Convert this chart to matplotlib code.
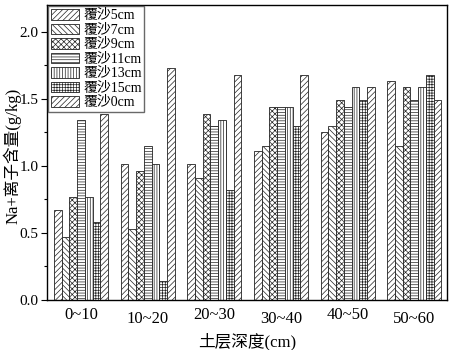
import matplotlib
matplotlib.use("Agg")
import matplotlib.pyplot as plt
import matplotlib.transforms as mtransforms
import numpy as np
from matplotlib.ticker import MultipleLocator

plt.rcParams['font.family'] = ['Liberation Serif', 'Noto Sans CJK SC']
plt.rcParams['hatch.linewidth'] = 0.5
plt.rcParams['hatch.color'] = '#333333'

depths = ["0~10", "10~20", "20~30", "30~40", "40~50", "50~60"]
series = ["覆沙5cm", "覆沙7cm", "覆沙9cm", "覆沙11cm", "覆沙13cm", "覆沙15cm", "覆沙0cm"]
sand_5 = [0.67, 1.01, 1.01, 1.11, 1.25, 1.63]
sand_7 = [0.47, 0.53, 0.91, 1.15, 1.30, 1.15]
sand_9 = [0.77, 0.96, 1.39, 1.44, 1.49, 1.59]
sand_11 = [1.34, 1.15, 1.30, 1.44, 1.44, 1.49]
sand_13 = [0.77, 1.01, 1.34, 1.44, 1.59, 1.59]
sand_15 = [0.58, 0.14, 0.82, 1.30, 1.49, 1.68]
sand_0 = [1.39, 1.73, 1.68, 1.68, 1.59, 1.49]
values = [sand_5, sand_7, sand_9, sand_11, sand_13, sand_15, sand_0]
hatches = ["//////", "\\\\\\\\\\\\", "xxxxxx", "------", "||||||", "++++++", "//////"]

fig = plt.figure(figsize=(4.52, 3.5), dpi=100)
ax = fig.add_axes([0.104, 0.143, 0.885, 0.843])

x = np.arange(len(depths))
w = 0.116
for i, (name, vals, h) in enumerate(zip(series, values, hatches)):
    ax.bar(x + (i - 3) * w, vals, w, label=name, facecolor="white",
           edgecolor="#222222", linewidth=0.6, hatch=h)

ax.set_xlim(-0.51, 5.49)
ax.set_ylim(0, 2.2)
ax.set_xticks(x)
ax.set_xticklabels(depths, fontsize=12)
ax.tick_params(axis="x", length=0, pad=5)
# labels are staggered slightly in the original
shift = mtransforms.ScaledTranslation(0, -3 / 72, fig.dpi_scale_trans)
for lab in ax.get_xticklabels()[1::2]:
    lab.set_transform(lab.get_transform() + shift)
ax.yaxis.set_major_locator(MultipleLocator(0.5))
ax.yaxis.set_minor_locator(MultipleLocator(0.25))
ax.set_yticklabels([f"{v:.1f}" for v in ax.get_yticks()], fontsize=11)
ax.tick_params(axis="y", direction="out", length=4, width=0.8, pad=2)
ax.tick_params(axis="y", which="minor", direction="out", length=2.5, width=0.8)
ax.set_ylabel("Na+离子含量(g/kg)", fontsize=12)
ax.yaxis.set_label_coords(-0.064, 0.49)
ax.set_xlabel("土层深度(cm)", fontsize=12, labelpad=4)
for s in ax.spines.values():
    s.set_linewidth(1.0)

ax.legend(loc="upper left", prop={"size": 10}, frameon=True, fancybox=False,
          edgecolor="#444444", borderpad=0.2, labelspacing=0.1,
          handlelength=2.0, handleheight=0.8, handletextpad=0.3,
          borderaxespad=0.1)

fig.savefig("out.png", dpi=100)
